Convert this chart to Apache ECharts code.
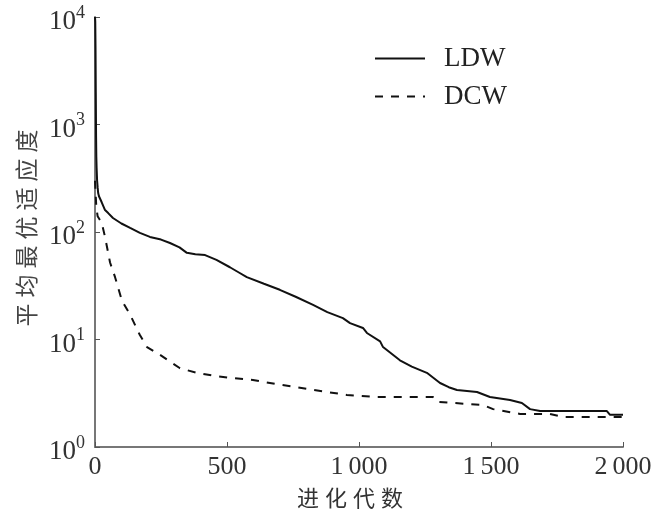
<!DOCTYPE html>
<html>
<head>
<meta charset="utf-8">
<script src="https://cdn.jsdelivr.net/npm/echarts@6/dist/echarts.min.js"></script>
<style>html,body{margin:0;padding:0;background:#fff;}#c{width:657px;height:521px;}</style>
</head>
<body>
<div id="c"></div>
<script>
const seriesNames = ['LDW', 'DCW'];
const xTicks = [0, 500, 1000, 1500, 2000];
const yTicks = [1, 10, 100, 1000, 10000];
const xTitle = '进化代数';
const yTitle = '平均最优适应度';

const ldwGen = [0,1,2,3,4,5,6,8,10,12,15,19,25,38,50,68,100,133,170,208,250,284,320,348,380,417,460,511,545,575,640,700,760,826,880,939,966,1015,1030,1080,1091,1155,1200,1257,1307,1340,1371,1447,1496,1572,1617,1648,1686,1800,1939,1951,2000];
const ldwFit = [10000,9000,5000,2000,800,500,400,300,260,230,215,207,190,160,150,135,120,109,98,90,85,79,72,64,62,61,55,47,42,38,33,29,25,21,18,15.8,14.2,12.8,11.5,9.6,8.5,6.4,5.6,4.9,3.94,3.6,3.39,3.25,2.92,2.74,2.57,2.25,2.16,2.16,2.16,1.99,1.99];

const dcwGen = [0,5,10,20,26,38,57,76,102,133,170,197,246,322,386,450,511,598,700,826,954,1068,1280,1295,1470,1508,1610,1723,1773,2000];
const dcwFit = [300,170,140,128,120,90,52,38,23,17,11,8.5,7.2,5.4,4.9,4.6,4.4,4.2,3.8,3.4,3.05,2.92,2.92,2.63,2.46,2.25,2.03,2.03,1.90,1.90];

const pair = (xs, ys) => xs.map((x, i) => [x, ys[i]]);
const spaced = s => s.split('').map(c => '{c|' + c + '}').join('');
const serif = 'Liberation Serif';
const cjk = 'Noto Sans CJK SC';

const chart = echarts.init(document.getElementById('c'));
chart.setOption({
  animation: false,
  backgroundColor: '#fff',
  grid: { left: 95, right: 34, top: 17, bottom: 74 },
  legend: {
    orient: 'vertical',
    left: 369, top: 40,
    itemWidth: 50, itemHeight: 14, itemGap: 11,
    itemStyle: { opacity: 0 },
    textStyle: { fontFamily: serif, fontSize: 27, color: '#222', padding: [0, 0, 0, 14] },
    data: seriesNames
  },
  xAxis: {
    type: 'value', min: 0, max: 2000, interval: 500,
    name: spaced(xTitle), nameLocation: 'middle', nameGap: 40,
    nameTextStyle: { padding: [0, 18, 0, 0],
      rich: { c: { fontFamily: cjk, fontSize: 22, color: '#333', padding: [0, 3, 0, 3] } } },
    axisLine: { lineStyle: { color: '#777', width: 2 } },
    axisTick: { inside: true, length: 5, lineStyle: { color: '#555' } },
    axisLabel: { fontFamily: serif, fontSize: 26, color: '#333', margin: 7,
      formatter: v => { const s = String(v); return s.length > 3 ? s.slice(0, s.length - 3) + '\u2009' + s.slice(-3) : s; } },
    splitLine: { show: false }
  },
  yAxis: {
    type: 'log', logBase: 10, min: 1, max: 10000,
    name: spaced(yTitle), nameLocation: 'middle', nameGap: 55, nameRotate: 90,
    nameTextStyle: { padding: [0, 0, 0, 8],
      rich: { c: { fontFamily: cjk, fontSize: 23, color: '#444', padding: [0, 3, 0, 3] } } },
    axisLine: { show: true, lineStyle: { color: '#777', width: 2 } },
    axisTick: { inside: true, length: 5, lineStyle: { color: '#555' } },
    minorTick: { show: false },
    splitLine: { show: false },
    axisLabel: {
      margin: 10,
      padding: [10, 0, 0, 0],
      formatter: v => '{b|10}{s|' + Math.round(Math.log10(v)) + '}',
      rich: {
        b: { fontFamily: serif, fontSize: 27, color: '#333' },
        s: { fontFamily: serif, fontSize: 18, color: '#333', padding: [0, 0, 18, 0] }
      }
    }
  },
  series: [
    { name: 'LDW', type: 'line', data: pair(ldwGen, ldwFit), symbol: 'none',
      lineStyle: { color: '#111', width: 2 }, itemStyle: { color: '#111' } },
    { name: 'DCW', type: 'line', data: pair(dcwGen, dcwFit), symbol: 'none',
      lineStyle: { color: '#111', width: 2, type: [8, 8] }, itemStyle: { color: '#111' } }
  ]
});
</script>
</body>
</html>
